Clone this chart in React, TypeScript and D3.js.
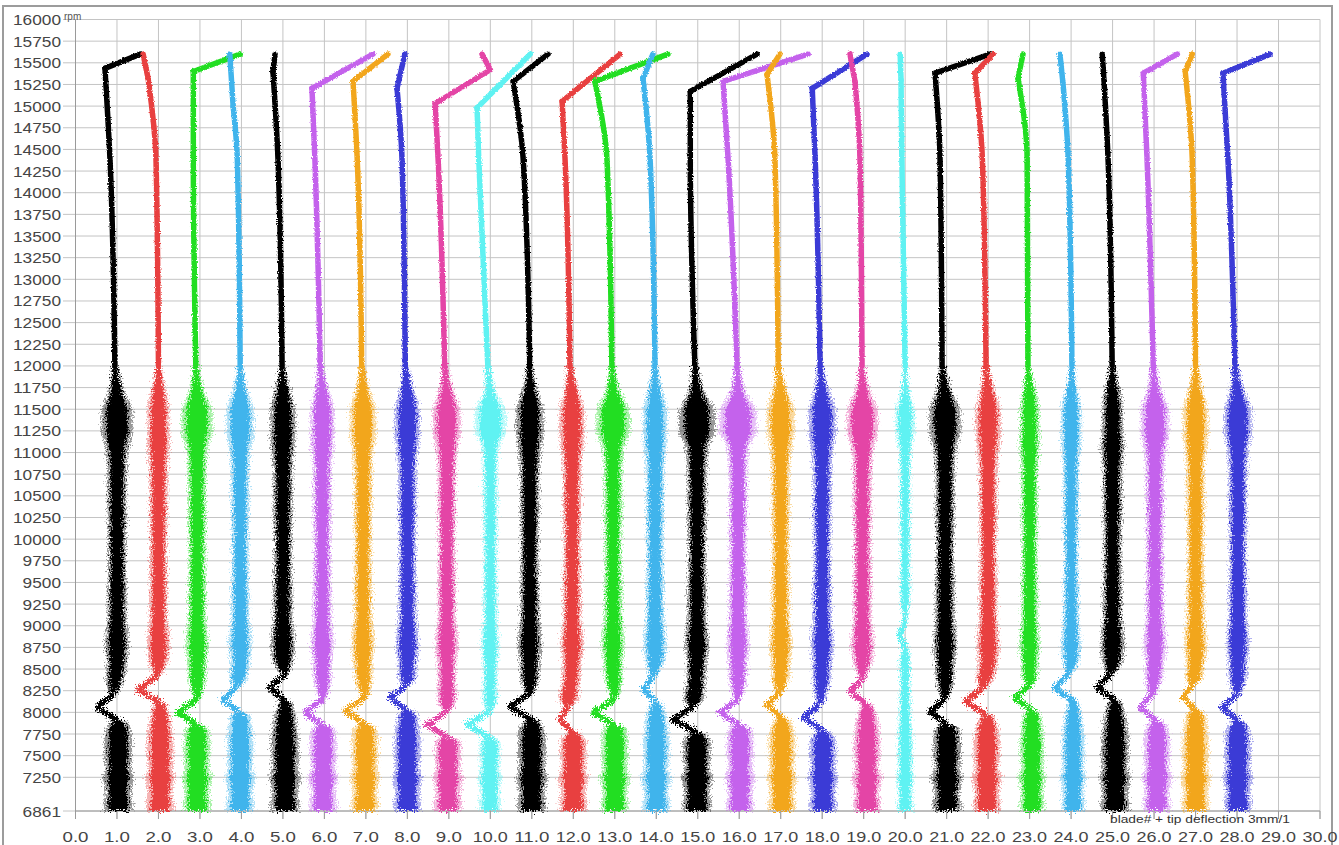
import * as d3 from "d3";

const W = 1339;
const H = 845;

const palette = ["#000000", "#e8403f", "#22de22", "#40b4ec", "#000000", "#c462ec", "#f2a61e", "#3a3ad6", "#e444a6", "#5ef2f2"];

// centre of each blade trace, in blade units
const bottomX = [1.03, 2.04, 2.93, 3.97, 5.05, 5.97, 6.98, 8.0, 8.98, 9.99, 11.0, 12.0, 13.0, 14.0, 14.98, 16.02, 17.03, 18.02, 19.08, 20.0, 21.01, 21.97, 23.06, 24.05, 25.06, 26.07, 27.0, 28.02];
const jogRpm = [8054, 8262, 8000, 8146, 8285, 8000, 8015, 8170, 7860, 7860, 8066, 7917, 8000, 8262, 7917, 8000, 8088, 7940, 8240, 8900, 8008, 8123, 8170, 8285, 8285, 8054, 8181, 8054];
const jogTipX = [0.52, 1.51, 2.47, 3.56, 4.69, 5.53, 6.5, 7.58, 8.47, 9.44, 10.47, 11.68, 12.48, 13.69, 14.4, 15.54, 16.67, 17.54, 18.67, 19.86, 20.6, 21.44, 22.65, 23.61, 24.63, 25.66, 26.7, 27.64];
const jogAboveX = [0.9, 1.96, 2.93, 3.89, 5.05, 5.97, 6.98, 7.99, 8.96, 9.99, 10.95, 11.87, 13.0, 13.92, 14.89, 15.97, 16.98, 17.95, 18.98, 20.0, 20.96, 21.85, 23.01, 23.93, 24.94, 25.95, 26.94, 28.0];
const midX = [1.0, 2.0, 2.93, 3.97, 5.0, 5.95, 6.93, 8.0, 8.95, 10.0, 10.95, 11.97, 12.96, 13.97, 14.98, 15.97, 17.0, 18.0, 18.97, 20.0, 20.96, 22.0, 23.0, 24.0, 25.0, 26.02, 27.0, 28.02];
const x12000 = [0.95, 2.0, 2.9, 3.97, 4.98, 5.9, 6.9, 7.95, 8.9, 9.94, 10.95, 11.92, 12.93, 13.97, 14.93, 15.95, 16.94, 17.95, 18.96, 20.0, 20.89, 21.95, 22.96, 24.02, 24.99, 25.98, 27.0, 27.95];
const x14400 = [0.83, 1.94, 2.84, 3.9, 4.88, 5.77, 6.79, 7.87, 8.74, 9.72, 10.79, 11.8, 12.81, 13.85, 14.82, 15.73, 16.86, 17.83, 18.91, 19.92, 20.84, 21.86, 22.94, 23.93, 24.89, 25.83, 26.92, 27.78];
const kneeRpm = [15436, 15320, 15400, 15000, 15400, 15205, 15285, 15205, 15030, 14980, 15285, 15055, 15285, 15320, 15170, 15285, 15365, 15205, 15285, 15300, 15380, 15380, 15320, 15285, 15400, 15380, 15400, 15380];
const kneeX = [0.71, 1.75, 2.84, 3.8, 4.76, 5.7, 6.69, 7.75, 8.67, 9.68, 10.55, 11.73, 12.52, 13.68, 14.82, 15.61, 16.67, 17.76, 18.79, 19.9, 20.72, 21.68, 22.72, 23.8, 24.78, 25.74, 26.75, 27.66];
const topX = [1.56, 1.63, 3.97, 3.72, 4.81, 7.17, 7.53, 7.94, 9.8, 10.96, 11.39, 13.13, 14.28, 13.92, 16.43, 17.66, 16.98, 19.08, 18.67, 19.88, 22.05, 22.12, 22.84, 23.73, 24.75, 26.56, 26.92, 28.8];
const topRpm = 15600;
// [blade, rpm, x] extra bends near the top
const topExtras = [[9, 15420, 10.0]];

// half width of the dense core of the scatter band (blade units)
const bandRpm = [6861, 6950, 7050, 7150, 7250, 7350, 7500, 7650, 7800, 7950, 8150, 8400, 8600, 8750, 8900, 9100, 9400, 9700, 10000, 10300, 10600, 10900, 11080, 11700, 11850, 12000];
const bandHW = [0.22, 0.23, 0.2, 0.22, 0.25, 0.2, 0.22, 0.22, 0.2, 0.17, 0.16, 0.15, 0.16, 0.19, 0.18, 0.15, 0.15, 0.14, 0.14, 0.15, 0.15, 0.16, 0.19, 0.13, 0.08, 0.055];
const bulgeRpm = [11250, 11450];
const bulgeHW = [0.26, 0.18, 0.26, 0.23, 0.21, 0.2, 0.22, 0.21, 0.23, 0.26, 0.23, 0.21, 0.28, 0.2, 0.3, 0.31, 0.23, 0.23, 0.26, 0.16, 0.26, 0.21, 0.16, 0.17, 0.17, 0.24, 0.21, 0.23];
const bandScale = [1.05, 1, 1, 1, 1.05, 1, 1, 1, 1, 0.8, 1.05, 1, 1, 1, 1.05, 1, 1, 1, 1, 0.6, 1.05, 1, 0.9, 0.85, 1.05, 1, 1, 1];
const haloRatio = 1.45;

const rpmTicks = [6861, ...d3.range(7250, 16250, 250)];
const bladeTicks = d3.range(0, 31);

type Knot = { rpm: number; x: number; hw: number };

export default function App() {
  const x = d3.scaleLinear().domain([0, 30]).range([75.5, 1320]);
  const y = d3.scaleLinear().domain([6861, 16000]).range([811, 19.5]);

  const band = (k: number) => d3.area<Knot>()
    .y(d => y(d.rpm))
    .x0(d => x(d.x - d.hw * k))
    .x1(d => x(d.x + d.hw * k))
    .curve(d3.curveMonotoneY);
  const core = band(1);
  const halo = band(haloRatio);
  const line = d3.line<number[]>()
    .x(d => x(d[1]))
    .y(d => y(d[0]));
  const smoothLine = d3.line<number[]>()
    .x(d => x(d[1]))
    .y(d => y(d[0]))
    .curve(d3.curveMonotoneY);

  const traces = bottomX.map((bx, i) => {
    const lo = jogRpm[i] - 150;
    const hi = jogRpm[i] + 150;
    const profile = bandRpm.map((r, k) => ({ rpm: r, hw: bandHW[k] * bandScale[i] }))
      .concat(bulgeRpm.map(r => ({ rpm: r, hw: bulgeHW[i] })))
      .sort((a, b) => a.rpm - b.rpm);

    const lower: Knot[] = profile.filter(p => p.rpm < lo - 40).map(p => ({ rpm: p.rpm, x: bx, hw: p.hw }));
    lower.push({ rpm: lo, x: bx, hw: 0.1 * bandScale[i] });

    const centre = d3.scaleLinear()
      .domain([hi, Math.max(8500, hi + 170), 11600, 12000])
      .range([jogAboveX[i], midX[i], midX[i], x12000[i]])
      .clamp(true);
    const upperBand: Knot[] = [{ rpm: hi, x: jogAboveX[i], hw: 0.06 * bandScale[i] }]
      .concat(profile.filter(p => p.rpm > hi + 60).map(p => ({ rpm: p.rpm, x: centre(p.rpm), hw: p.hw })));

    const jog = [[lo, bx], [jogRpm[i], jogTipX[i]], [hi, jogAboveX[i]]];

    // steady drift up to the knee, then the sweep at top speed
    const drift = [[12000, x12000[i]], [14400, x14400[i]], [kneeRpm[i], kneeX[i]]];
    const sweep = [[kneeRpm[i], kneeX[i]]];
    topExtras.filter(e => e[0] === i + 1).forEach(e => sweep.push([e[1], e[2]]));
    sweep.push([topRpm, topX[i]]);

    return { color: palette[i % 10], lower, upperBand, jog, drift, sweep };
  });

  const font = "'Liberation Sans', Arial, sans-serif";

  return (
    <div>
      <style>{`body{margin:0}`}</style>
      <svg width={W} height={H} style={{ display: "block", background: "#fff" }}>
        <defs>
          <filter id="grain" filterUnits="userSpaceOnUse" x="0" y="0" width={W} height={H}>
            <feTurbulence type="fractalNoise" baseFrequency="0.65" numOctaves="2" seed="4" result="noise" />
            <feDisplacementMap in="SourceGraphic" in2="noise" scale="12" xChannelSelector="R" yChannelSelector="G" />
          </filter>
          <filter id="fine" filterUnits="userSpaceOnUse" x="0" y="0" width={W} height={H}>
            <feTurbulence type="fractalNoise" baseFrequency="0.8" numOctaves="1" seed="7" result="noise" />
            <feDisplacementMap in="SourceGraphic" in2="noise" scale="3.5" xChannelSelector="R" yChannelSelector="G" />
          </filter>
        </defs>

        <rect x={3} y={6} width={1329} height={850} fill="none" stroke="#9c9c9c" strokeWidth={2} />

        {/* grid */}
        <g stroke="#c4c4c4" strokeWidth={1}>
          {bladeTicks.map(t => (
            <line key={"v" + t} x1={x(t)} x2={x(t)} y1={y(16000)} y2={y(6861) + 8} />
          ))}
          {rpmTicks.map(t => (
            <line key={"h" + t} x1={63} x2={x(30)} y1={y(t)} y2={y(t)} />
          ))}
        </g>
        <g stroke="#9a9a9a" strokeWidth={1}>
          <line x1={x(0)} x2={x(0)} y1={y(16000)} y2={y(6861)} />
          <line x1={x(0)} x2={x(30)} y1={y(6861)} y2={y(6861)} />
        </g>

        {/* scatter bands */}
        <g filter="url(#grain)">
          {traces.map((t, i) => (
            <g key={"f" + i} fill={t.color} opacity={0.4}>
              <path d={halo(t.lower) || ""} />
              <path d={halo(t.upperBand) || ""} />
            </g>
          ))}
          {traces.map((t, i) => (
            <g key={"b" + i} fill={t.color} stroke={t.color}>
              <path d={core(t.lower) || ""} stroke="none" />
              <path d={core(t.upperBand) || ""} stroke="none" />
              <path d={line(t.jog) || ""} fill="none" strokeWidth={5.5} strokeLinejoin="round" />
            </g>
          ))}
        </g>
        <g filter="url(#fine)" fill="none" strokeWidth={5.5} strokeLinejoin="round" strokeLinecap="round">
          {traces.map((t, i) => (
            <g key={"t" + i} stroke={t.color}>
              <path d={smoothLine(t.drift) || ""} />
              <path d={line(t.sweep) || ""} />
            </g>
          ))}
        </g>

        {/* labels */}
        <g fontFamily={font} fill="#454545" fontSize={15}>
          {rpmTicks.map(t => {
            const s = String(t);
            return (
              <text key={"yl" + t} x={61} y={y(t)} textAnchor="end" dominantBaseline="central"
                textLength={s.length * 9.6} lengthAdjust="spacingAndGlyphs">{s}</text>
            );
          })}
          {bladeTicks.map(t => {
            const s = t.toFixed(1);
            return (
              <text key={"xl" + t} x={x(t)} y={842} textAnchor="middle"
                textLength={s.length === 3 ? 26 : 35} lengthAdjust="spacingAndGlyphs">{s}</text>
            );
          })}
        </g>
        <g stroke="#9a9a9a">
          {bladeTicks.map(t => (
            <line key={"xt" + t} x1={x(t)} x2={x(t)} y1={y(6861)} y2={y(6861) + 8} />
          ))}
        </g>
        <text x={64} y={20} fontFamily={font} fontSize={10} fill="#555">rpm</text>
        <text x={1110} y={823} fontFamily={font} fontSize={10} fill="#333" textLength={180} lengthAdjust="spacingAndGlyphs">
          blade# + tip deflection 3mm/1
        </text>
      </svg>
    </div>
  );
}
